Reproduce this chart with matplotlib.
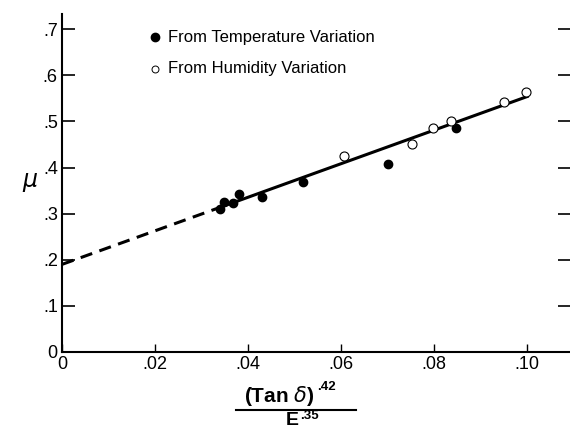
import matplotlib
matplotlib.use("Agg")
import matplotlib.pyplot as plt
from matplotlib.lines import Line2D
import numpy as np

plt.rcParams['font.family'] = ['Liberation Sans', 'DejaVu Sans']

# Data
temp_x = [0.0340, 0.0348, 0.0368, 0.0380, 0.0429, 0.0517, 0.0700, 0.0848]
temp_y = [0.310, 0.326, 0.324, 0.343, 0.336, 0.369, 0.407, 0.485]
hum_x = [0.0607, 0.0752, 0.0797, 0.0837, 0.0950, 0.0997]
hum_y = [0.424, 0.452, 0.485, 0.502, 0.543, 0.563]
fit_intercept = 0.190
fit_slope = 3.64
fit_dash_x = [0.0, 0.034]
fit_solid_x = [0.034, 0.100]

xticks = [0, 0.02, 0.04, 0.06, 0.08, 0.10]
xticklabels = ['0', '.02', '.04', '.06', '.08', '.10']
yticks = [0, 0.1, 0.2, 0.3, 0.4, 0.5, 0.6, 0.7]
yticklabels = ['0', '.1', '.2', '.3', '.4', '.5', '.6', '.7']

fig = plt.figure(figsize=(5.7, 4.3), dpi=100)
ax = fig.add_axes([62/570, 1-352/430, 1-62/570, (352-14)/430])

dx = np.array(fit_dash_x)
sx = np.array(fit_solid_x)
ax.plot(dx, fit_intercept + fit_slope*dx, color='black', lw=2.2, ls=(0, (4, 2.5)), zorder=2)
ax.plot(sx, fit_intercept + fit_slope*sx, color='black', lw=2.2, zorder=2)

ax.plot(temp_x, temp_y, 'o', ms=6, color='black', zorder=3)
ax.plot(hum_x, hum_y, 'o', ms=6.5, mfc='white', mec='black', mew=0.8, zorder=3)

ax.set_xlim(0, 0.1092)
ax.set_ylim(0, 0.733)
ax.set_xticks(xticks)
ax.set_xticklabels(xticklabels)
ax.set_yticks(yticks)
ax.set_yticklabels(yticklabels)

for s in ['top', 'right']:
    ax.spines[s].set_visible(False)
for s in ['left', 'bottom']:
    ax.spines[s].set_linewidth(1.5)

ax.tick_params(axis='y', direction='in', length=9, width=1.2, labelsize=13, pad=3,
               right=True, left=True)
ax.tick_params(axis='x', direction='in', length=6, width=1.0, labelsize=13, pad=3)

# Legend (drawn manually)
ax.plot([0.0200], [0.683], 'o', ms=6, color='black', clip_on=False)
ax.text(0.0228, 0.683, 'From Temperature Variation', fontsize=12, va='center', ha='left')
ax.plot([0.0200], [0.614], 'o', ms=5, mfc='white', mec='black', mew=0.7, clip_on=False)
ax.text(0.0228, 0.614, 'From Humidity Variation', fontsize=12, va='center', ha='left')

# y label
fig.text(30/570, 1-183/430, r'$\mu$', fontsize=17, ha='center', va='center')

# x label as fraction
fig.text(244/570, 1-396/430, r'(Tan $\delta$)', fontsize=15, fontweight='bold',
         ha='left', va='center')
fig.text(317/570, 1-387/430, '.42', fontsize=9.5, fontweight='bold',
         ha='left', va='center')
fig.add_artist(Line2D([236/570, 356/570], [1-410/430, 1-410/430], color='black', lw=1.5,
                      transform=fig.transFigure))
fig.text(292/570, 1-429/430, 'E', fontsize=14, fontweight='bold',
         ha='center', va='bottom')
fig.text(300/570, 1-416/430, '.35', fontsize=9.5, fontweight='bold',
         ha='left', va='center')

fig.savefig('out.png', dpi=100)
